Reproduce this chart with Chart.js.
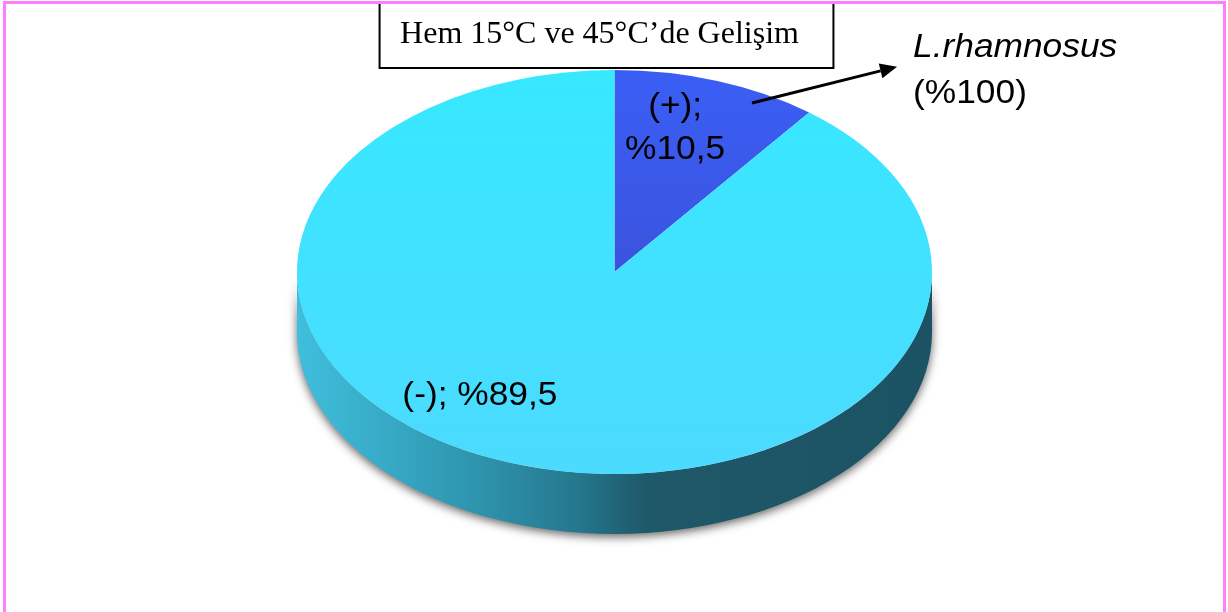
<!DOCTYPE html>
<html>
<head>
<meta charset="utf-8">
<script src="https://cdn.jsdelivr.net/npm/chart.js@4.4.1/dist/chart.umd.min.js"></script>
<style>
  html, body { margin: 0; padding: 0; background: #ffffff; }
  #wrap { position: relative; width: 1228px; height: 612px; overflow: hidden; }
  #frame {
    position: absolute; left: 3px; top: 1px; width: 1223px; height: 700px;
    border: 3px solid #ff7dff; box-sizing: border-box; pointer-events: none;
  }
  canvas { display: block; }
</style>
</head>
<body>
<div id="wrap">
  <canvas id="chart" width="1228" height="612"></canvas>
  <div id="frame"></div>
</div>
<script>
// Slice data: share of strains growing at both 15°C and 45°C
const categories = ['(+)', '(-)'];
const shares = [10.5, 89.5];
const chartTitle = 'Hem 15°C ve 45°C’de Gelişim';
const calloutName = 'L.rhamnosus';
const calloutShare = 100;

// Formats a share the Turkish way: %10,5
const pct = v => '%' + String(v).replace('.', ',');

// Top-face colours (gradient top -> bottom) and side-wall colours
const faceTop = ['#3a5ef5', '#37e8ff'];
const faceBottom = ['#3c49c8', '#4cdaff'];
const wallStops = [
  [0.00, '#3fbfdc'],
  [0.27, '#2f96b0'],
  [0.44, '#25788e'],
  [0.55, '#1e5869'],
  [1.00, '#1c5364']
];
const DEPTH = 60;

// Label placement in units of the ellipse radii, relative to its centre
const labelPlacement = [
  { u: 0.191, v: -0.772, lines: v => [categories[0] + ';', pct(v)] },
  { u: -0.424, v: 0.658, lines: v => [categories[1] + '; ' + pct(v)] }
];
const SANS = '"Liberation Sans", Arial, sans-serif';
const SANS_SIZE = 33;
const SANS_STRETCH = 1.07;

function pieGeometry(chart) {
  const arc = chart.getDatasetMeta(0).data[0];
  const ca = chart.chartArea;
  const r = arc.outerRadius;
  const rx = (ca.right - ca.left) / 2;
  return { cx: arc.x, cy: arc.y, r, rx, ry: r, sx: rx / r };
}

function visibleRanges(s, e) {
  const out = [];
  for (let k = -1; k <= 1; k++) {
    const a = Math.max(s + 2 * Math.PI * k, 0);
    const b = Math.min(e + 2 * Math.PI * k, Math.PI);
    if (b > a) out.push([a, b]);
  }
  return out;
}

function stretchedText(ctx, text, x, y, font) {
  ctx.save();
  ctx.translate(x, y);
  ctx.scale(SANS_STRETCH, 1);
  ctx.font = font;
  ctx.fillText(text, 0, 0);
  ctx.restore();
}

const tiltedPie = {
  id: 'tiltedPie',
  beforeDatasetsDraw(chart) {
    const ctx = chart.ctx;
    const g = pieGeometry(chart);
    ctx.save();
    // squash the round pie into a wide ellipse
    ctx.translate(g.cx, g.cy);
    ctx.scale(g.sx, 1);
    ctx.translate(-g.cx, -g.cy);

    // side walls of the slices facing the viewer
    const meta = chart.getDatasetMeta(0);
    const grad = ctx.createLinearGradient(g.cx - g.r, 0, g.cx + g.r, 0);
    wallStops.forEach(([o, c]) => grad.addColorStop(o, c));
    meta.data.forEach(arc => {
      visibleRanges(arc.startAngle, arc.endAngle).forEach(([a, b]) => {
        ctx.save();
        ctx.beginPath();
        ctx.arc(g.cx, g.cy, g.r, a, b, false);
        ctx.arc(g.cx, g.cy + DEPTH, g.r, b, a, true);
        ctx.closePath();
        ctx.shadowColor = 'rgba(0,0,0,0.6)';
        ctx.shadowBlur = 10;
        ctx.shadowOffsetY = 3;
        ctx.fillStyle = grad;
        ctx.fill();
        ctx.restore();
      });
    });
  },
  afterDatasetsDraw(chart) {
    chart.ctx.restore();
  },
  afterDraw(chart) {
    const ctx = chart.ctx;
    const g = pieGeometry(chart);
    ctx.save();

    // slice labels
    ctx.fillStyle = '#000000';
    ctx.textAlign = 'center';
    ctx.textBaseline = 'alphabetic';
    const labelFont = SANS_SIZE + 'px ' + SANS;
    labelPlacement.forEach((p, i) => {
      const x = g.cx + p.u * g.rx;
      const y = g.cy + p.v * g.ry;
      p.lines(shares[i]).forEach((t, j) => stretchedText(ctx, t, x, y + j * 43, labelFont));
    });

    // boxed title
    ctx.font = '32px "Liberation Serif", "Times New Roman", serif';
    const tw = ctx.measureText(chartTitle).width;
    const boxW = tw + 55, boxH = 66;
    const boxX = g.cx - 8 - boxW / 2, boxY = 2;
    ctx.fillStyle = '#ffffff';
    ctx.fillRect(boxX, boxY, boxW, boxH);
    ctx.lineWidth = 2;
    ctx.strokeStyle = '#000000';
    ctx.strokeRect(boxX, boxY, boxW, boxH);
    ctx.fillStyle = '#000000';
    ctx.textAlign = 'center';
    ctx.fillText(chartTitle, boxX + boxW / 2 - 7, 43);

    // callout arrow from the (+) slice
    const x0 = g.cx + 0.433 * g.rx, y0 = g.cy - 0.837 * g.ry;
    const x1 = g.cx + 0.890 * g.rx, y1 = g.cy - 1.016 * g.ry;
    const ang = Math.atan2(y1 - y0, x1 - x0);
    const head = 17, half = 7.5;
    ctx.strokeStyle = '#000000';
    ctx.lineWidth = 3;
    ctx.beginPath();
    ctx.moveTo(x0, y0);
    ctx.lineTo(x1 - head * Math.cos(ang), y1 - head * Math.sin(ang));
    ctx.stroke();
    ctx.beginPath();
    ctx.moveTo(x1, y1);
    ctx.lineTo(x1 - head * Math.cos(ang) + half * Math.sin(ang), y1 - head * Math.sin(ang) - half * Math.cos(ang));
    ctx.lineTo(x1 - head * Math.cos(ang) - half * Math.sin(ang), y1 - head * Math.sin(ang) + half * Math.cos(ang));
    ctx.closePath();
    ctx.fillStyle = '#000000';
    ctx.fill();

    // callout text
    ctx.textAlign = 'left';
    const tx = x1 + 16;
    stretchedText(ctx, calloutName, tx, 57, 'italic ' + SANS_SIZE + 'px ' + SANS);
    stretchedText(ctx, '(' + pct(calloutShare) + ')', tx, 103, SANS_SIZE + 'px ' + SANS);

    ctx.restore();
  }
};

new Chart(document.getElementById('chart'), {
  type: 'pie',
  data: {
    labels: categories,
    datasets: [{
      data: shares,
      borderWidth: 0,
      clip: false,
      backgroundColor: c => {
        const ca = c.chart.chartArea;
        if (!ca) return faceTop[c.dataIndex];
        const grad = c.chart.ctx.createLinearGradient(0, ca.top, 0, ca.bottom);
        grad.addColorStop(0, faceTop[c.dataIndex]);
        grad.addColorStop(1, faceBottom[c.dataIndex]);
        return grad;
      }
    }]
  },
  options: {
    responsive: false,
    animation: false,
    events: [],
    layout: { padding: { left: 297, right: 296, top: 70, bottom: 138 } },
    plugins: {
      legend: { display: false },
      title: { display: false },
      tooltip: { enabled: false }
    }
  },
  plugins: [tiltedPie]
});
</script>
</body>
</html>
